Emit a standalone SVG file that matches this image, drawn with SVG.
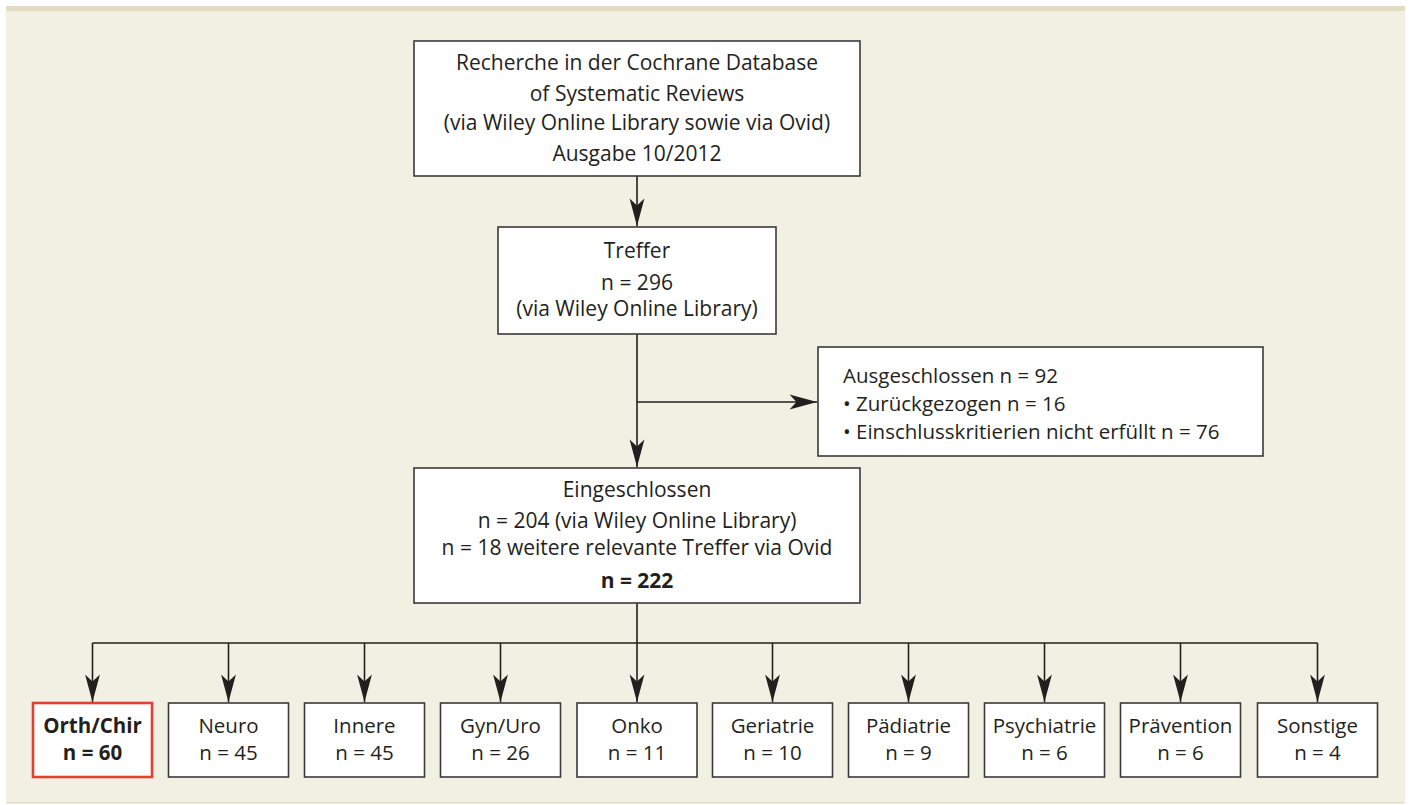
<svg xmlns="http://www.w3.org/2000/svg" width="1410" height="805" viewBox="0 0 1410 805">
<defs>
<style>
.bg{fill:#f2efe3}
.box{fill:#ffffff;stroke:#3a3a3a;stroke-width:1.6}
.red{fill:#ffffff;stroke:#e2412f;stroke-width:2.6}
.t{font-family:"Open Sans","Noto Sans","Liberation Sans",sans-serif;font-size:21px;fill:#231f20}
.s{font-size:20.5px}
.c{text-anchor:middle}
.b{font-weight:bold}
.ln{fill:none;stroke:#231f20;stroke-width:1.6}
</style>
<marker id="ah" markerUnits="userSpaceOnUse" markerWidth="30" markerHeight="16" viewBox="-25 -7 26 14" refX="0" refY="0" orient="auto">
<path d="M0,0 L-24,-6.5 L-18,0 L-24,6.5 Z" fill="#231f20"/>
</marker>
</defs>
<rect x="0" y="0" width="1410" height="805" fill="#ffffff"/>
<rect class="bg" x="6" y="6" width="1399" height="797"/>
<rect x="6" y="6" width="1399" height="5" fill="#e4dcc2"/>
<rect x="6" y="802" width="1399" height="1.5" fill="#e4dcc2"/>

<g id="connectors">
<line class="ln" x1="637" y1="176" x2="637" y2="226" marker-end="url(#ah)"/>
<line class="ln" x1="637" y1="334" x2="637" y2="467" marker-end="url(#ah)"/>
<line class="ln" x1="637" y1="402" x2="817" y2="402" marker-end="url(#ah)"/>
<line class="ln" x1="637" y1="603" x2="637" y2="643"/>
<line class="ln" x1="92.5" y1="643" x2="1317.5" y2="643"/>
<line class="ln" x1="92.5" y1="643" x2="92.5" y2="702" marker-end="url(#ah)"/>
<line class="ln" x1="228.5" y1="643" x2="228.5" y2="702" marker-end="url(#ah)"/>
<line class="ln" x1="364.5" y1="643" x2="364.5" y2="702" marker-end="url(#ah)"/>
<line class="ln" x1="500.5" y1="643" x2="500.5" y2="702" marker-end="url(#ah)"/>
<line class="ln" x1="637" y1="643" x2="637" y2="702" marker-end="url(#ah)"/>
<line class="ln" x1="772.5" y1="643" x2="772.5" y2="702" marker-end="url(#ah)"/>
<line class="ln" x1="908.5" y1="643" x2="908.5" y2="702" marker-end="url(#ah)"/>
<line class="ln" x1="1044.5" y1="643" x2="1044.5" y2="702" marker-end="url(#ah)"/>
<line class="ln" x1="1180.5" y1="643" x2="1180.5" y2="702" marker-end="url(#ah)"/>
<line class="ln" x1="1317.5" y1="643" x2="1317.5" y2="702" marker-end="url(#ah)"/>
</g>

<g id="recherche">
<rect class="box" x="414" y="41" width="446" height="135"/>
<text class="t c" x="637" y="70">Recherche in der Cochrane Database</text>
<text class="t c" x="637" y="101">of Systematic Reviews</text>
<text class="t c" x="637" y="130">(via Wiley Online Library sowie via Ovid)</text>
<text class="t c" x="637" y="161">Ausgabe 10/2012</text>
</g>

<g id="treffer">
<rect class="box" x="498" y="227" width="278" height="107"/>
<text class="t c" x="637" y="258">Treffer</text>
<text class="t c" x="637" y="290">n = 296</text>
<text class="t c" x="637" y="316">(via Wiley Online Library)</text>
</g>

<g id="ausgeschlossen">
<rect class="box" x="818" y="347" width="445" height="109"/>
<text class="t s" x="843" y="383">Ausgeschlossen n = 92</text>
<text class="t s" x="843" y="411">• Zurückgezogen n = 16</text>
<text class="t s" x="843" y="439">• Einschlusskritierien nicht erfüllt n = 76</text>
</g>

<g id="eingeschlossen">
<rect class="box" x="414" y="468" width="446" height="135"/>
<text class="t c" x="637" y="497">Eingeschlossen</text>
<text class="t c" x="637" y="528">n = 204 (via Wiley Online Library)</text>
<text class="t c" x="637" y="555">n = 18 weitere relevante Treffer via Ovid</text>
<text class="t c b" x="637" y="588">n = 222</text>
</g>

<g id="orth">
<rect class="red" x="33" y="703" width="119" height="74"/>
<text class="t s c b" x="92.5" y="733">Orth/Chir</text>
<text class="t s c b" x="92.5" y="760">n = 60</text>
</g>
<g id="neuro">
<rect class="box" x="168.5" y="703" width="120" height="74"/>
<text class="t s c" x="228.5" y="733">Neuro</text>
<text class="t s c" x="228.5" y="760">n = 45</text>
</g>
<g id="innere">
<rect class="box" x="304.5" y="703" width="120" height="74"/>
<text class="t s c" x="364.5" y="733">Innere</text>
<text class="t s c" x="364.5" y="760">n = 45</text>
</g>
<g id="gynuro">
<rect class="box" x="440.5" y="703" width="120" height="74"/>
<text class="t s c" x="500.5" y="733">Gyn/Uro</text>
<text class="t s c" x="500.5" y="760">n = 26</text>
</g>
<g id="onko">
<rect class="box" x="577" y="703" width="120" height="74"/>
<text class="t s c" x="637" y="733">Onko</text>
<text class="t s c" x="637" y="760">n = 11</text>
</g>
<g id="geriatrie">
<rect class="box" x="712.5" y="703" width="120" height="74"/>
<text class="t s c" x="772.5" y="733">Geriatrie</text>
<text class="t s c" x="772.5" y="760">n = 10</text>
</g>
<g id="paediatrie">
<rect class="box" x="848.5" y="703" width="120" height="74"/>
<text class="t s c" x="908.5" y="733">Pädiatrie</text>
<text class="t s c" x="908.5" y="760">n = 9</text>
</g>
<g id="psychiatrie">
<rect class="box" x="984.5" y="703" width="120" height="74"/>
<text class="t s c" x="1044.5" y="733">Psychiatrie</text>
<text class="t s c" x="1044.5" y="760">n = 6</text>
</g>
<g id="praevention">
<rect class="box" x="1120.5" y="703" width="120" height="74"/>
<text class="t s c" x="1180.5" y="733">Prävention</text>
<text class="t s c" x="1180.5" y="760">n = 6</text>
</g>
<g id="sonstige">
<rect class="box" x="1257.5" y="703" width="120" height="74"/>
<text class="t s c" x="1317.5" y="733">Sonstige</text>
<text class="t s c" x="1317.5" y="760">n = 4</text>
</g>
</svg>
